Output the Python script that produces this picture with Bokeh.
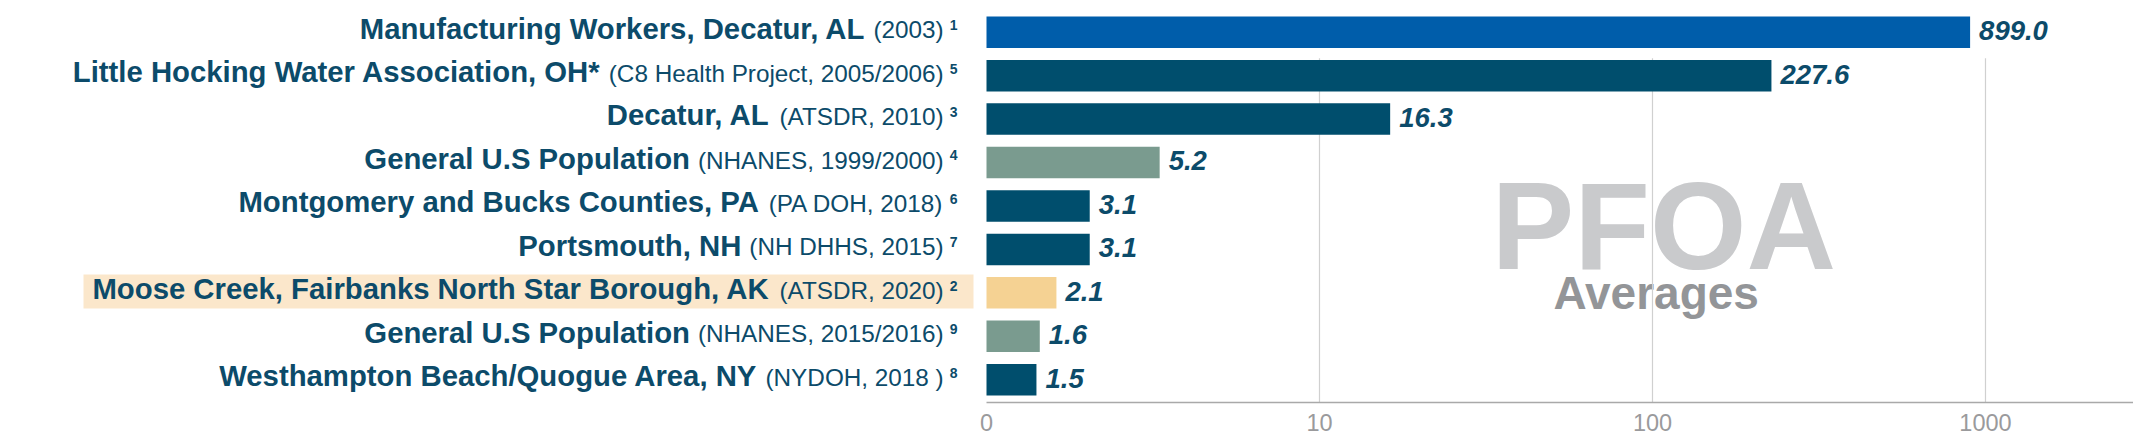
import math
from bokeh.plotting import figure
from bokeh.models import Range1d, ColumnDataSource, LinearAxis, FixedTicker, CustomJSTickFormatter
from bokeh.core.properties import value
from bokeh.embed import file_html
from bokeh.resources import INLINE

# ---------------- data ----------------
names = [
    "Manufacturing Workers, Decatur, AL",
    "Little Hocking Water Association, OH*",
    "Decatur, AL",
    "General U.S Population",
    "Montgomery and Bucks Counties, PA",
    "Portsmouth, NH",
    "Moose Creek, Fairbanks North Star Borough, AK",
    "General U.S Population",
    "Westhampton Beach/Quogue Area, NY",
]
studies = [
    "(2003)",
    "(C8 Health Project, 2005/2006)",
    "(ATSDR, 2010)",
    "(NHANES, 1999/2000)",
    "(PA DOH, 2018)",
    "(NH DHHS, 2015)",
    "(ATSDR, 2020)",
    "(NHANES, 2015/2016)",
    "(NYDOH, 2018 )",
]
notes = ["1", "5", "3", "4", "6", "7", "2", "9", "8"]
values = [899.0, 227.6, 16.3, 5.2, 3.1, 3.1, 2.1, 1.6, 1.5]
groups = ["workers", "community", "community", "national", "community",
          "community", "alaska", "national", "community"]
highlight_row = "Moose Creek, Fairbanks North Star Borough, AK"
tick_values = [0, 10, 100, 1000]
title_main = "PFOA"
title_sub = "Averages"

# ---------------- style ----------------
GROUP_COLORS = {"workers": "#005DAA", "community": "#004E6D",
                "national": "#7A9B8F", "alaska": "#F5D293"}
TEXT = "#0C4B6A"
FONT = "Liberation Sans"
W, H = 2133, 439
FRAME_H = 402
X0_PX, PX_PER_DEC = 986.0, 333.0
ROW0_PX, ROW_STEP = 31.7, 43.44
K_BASE = 0.33   # empirical baseline correction (fraction of font size)


def sym(v):
    """linear from 0 to 10, logarithmic above (in decade units)"""
    return v / 10.0 if v < 10 else 1.0 + math.log10(v / 10.0)


def ux(px):
    return (px - X0_PX) / PX_PER_DEC


def uy(px):
    return (px - ROW0_PX) / ROW_STEP


def base(row, dpx, size):
    """row coordinate of a text baseline placed dpx pixels below the row centre"""
    return row + (dpx - K_BASE * size) / ROW_STEP


REG = {'(': 333, ')': 333, ',': 278, ' ': 278, '/': 278, '.': 278,
       'A': 667, 'B': 667, 'C': 722, 'D': 722, 'E': 667, 'F': 611, 'G': 778, 'H': 722,
       'I': 278, 'J': 500, 'K': 667, 'L': 556, 'M': 833, 'N': 722, 'O': 778, 'P': 667,
       'Q': 778, 'R': 722, 'S': 667, 'T': 611, 'U': 722, 'V': 667, 'W': 944, 'X': 667,
       'Y': 667, 'Z': 611, 'a': 556, 'b': 556, 'c': 500, 'd': 556, 'e': 556, 'f': 278,
       'g': 556, 'h': 556, 'i': 222, 'j': 222, 'k': 500, 'l': 222, 'm': 833, 'n': 556,
       'o': 556, 'p': 556, 'q': 556, 'r': 333, 's': 500, 't': 278, 'u': 556, 'v': 500,
       'w': 722, 'x': 500, 'y': 500, 'z': 500}


def text_w(s, size):
    return sum(REG.get(ch, 556) for ch in s) / 1000.0 * size


NAME_SIZE, STUDY_SIZE, NOTE_SIZE, VAL_SIZE = 29.3, 24.3, 14, 27.5
NOTE_RIGHT = 957.0

n = len(names)
rows = list(range(n))
bar_right = [sym(v) for v in values]
colors = [GROUP_COLORS[g] for g in groups]

note_x = [ux(NOTE_RIGHT)] * n
study_right_px = [NOTE_RIGHT - NOTE_SIZE * 0.556 - 6 for _ in rows]
study_x = [ux(px) for px in study_right_px]
name_x = [ux(px - text_w(s, STUDY_SIZE) - 8) for px, s in zip(study_right_px, studies)]

src = ColumnDataSource(dict(
    y=rows, right=bar_right, color=colors, name=names, study=studies, note=notes,
    label=[f"{v:.1f}" for v in values],
    y_name=[base(r, 5.5, NAME_SIZE) for r in rows],
    y_study=[base(r, 5.5, STUDY_SIZE) for r in rows],
    y_note=[base(r, -2.5, NOTE_SIZE) for r in rows],
    y_val=[base(r, 7.5, VAL_SIZE) for r in rows],
    name_x=name_x, study_x=study_x, note_x=note_x,
))

x_end = ux(W)
p = figure(width=W, height=H, output_backend="svg", toolbar_location=None,
           x_range=Range1d(ux(0), x_end),
           y_range=Range1d(uy(FRAME_H), uy(0)),
           x_axis_location=None, y_axis_location=None,
           min_border_left=0, min_border_right=0, min_border_top=0,
           min_border_bottom=H - FRAME_H)
p.outline_line_color = None
p.xgrid.visible = False
p.ygrid.visible = False
p.background_fill_color = "white"
p.border_fill_color = "white"

# highlight band behind the Alaska label
hi = names.index(highlight_row)
p.quad(left=[ux(83)], right=[ux(973)], top=[hi - 18.3 / ROW_STEP], bottom=[hi + 15.7 / ROW_STEP],
       fill_color="#FBE7CB", line_color=None)

# watermark title
p.text(x=[ux(1491)], y=[uy(266.7 - K_BASE * 124)], text=[title_main], text_font=value(FONT),
       text_font_style="bold", text_font_size="124px", text_color="#C9CACC",
       text_align="left", text_baseline="alphabetic")
p.text(x=[ux(1553)], y=[uy(308 - K_BASE * 46)], text=[title_sub], text_font=value(FONT),
       text_font_style="bold", text_font_size="46px", text_color="#939598",
       text_align="left", text_baseline="alphabetic")

# grid lines (start below the first row)
gx = [sym(t) for t in tick_values if t > 0]
p.segment(x0=gx, x1=gx, y0=[0.6] * len(gx), y1=[uy(FRAME_H)] * len(gx),
          line_color="#D0D0D0", line_width=1.2)

# bars
p.hbar(y="y", left=0, right="right", height=31.5 / ROW_STEP, fill_color="color",
       line_color=None, source=src)

# value labels
p.text(x="right", y="y_val", text="label", source=src, x_offset=9,
       text_font=value(FONT), text_font_style="bold italic", text_font_size=f"{VAL_SIZE}px",
       text_color=TEXT, text_align="left", text_baseline="alphabetic")

# category labels
p.text(x="name_x", y="y_name", text="name", source=src, text_font=value(FONT),
       text_font_style="bold", text_font_size=f"{NAME_SIZE}px", text_color=TEXT,
       text_align="right", text_baseline="alphabetic")
p.text(x="study_x", y="y_study", text="study", source=src, text_font=value(FONT),
       text_font_size=f"{STUDY_SIZE}px", text_color=TEXT,
       text_align="right", text_baseline="alphabetic")
p.text(x="note_x", y="y_note", text="note", source=src, text_font=value(FONT),
       text_font_style="bold", text_font_size=f"{NOTE_SIZE}px", text_color=TEXT,
       text_align="right", text_baseline="alphabetic")

# x axis
ax = LinearAxis(ticker=FixedTicker(ticks=[sym(t) for t in tick_values]),
                formatter=CustomJSTickFormatter(code="return tick == 0 ? '0' : String(Math.round(Math.pow(10, tick)));"),
                bounds=(0, x_end))
ax.axis_line_color = "#A9A9A9"
ax.axis_line_width = 1.5
ax.major_tick_line_color = None
ax.minor_tick_line_color = None
ax.major_label_standoff = 5
ax.major_label_text_font = FONT
ax.major_label_text_font_size = "23.5px"
ax.major_label_text_color = "#9A9A9C"
p.add_layout(ax, "below")

open("out.html", "w").write(file_html(p, INLINE))
